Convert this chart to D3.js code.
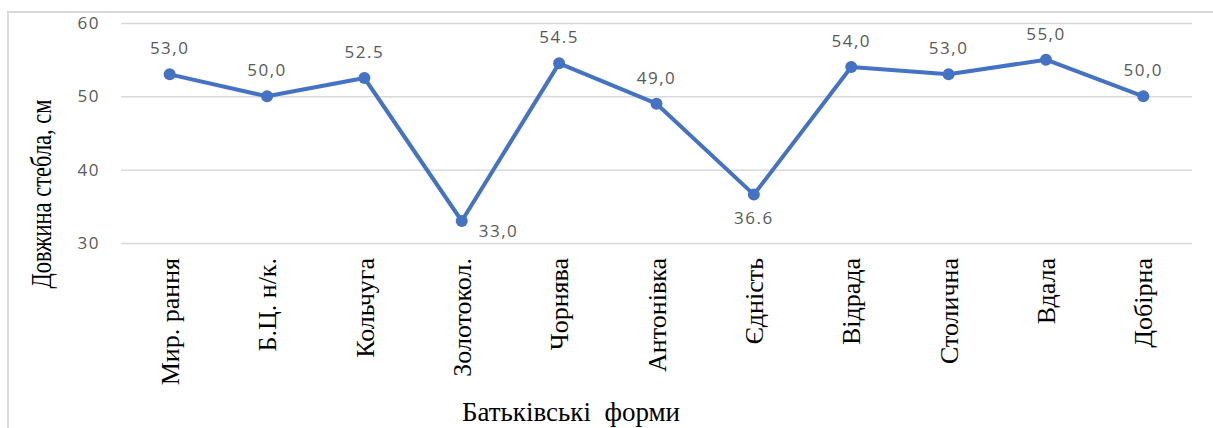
<!DOCTYPE html>
<html>
<head>
<meta charset="utf-8">
<script src="https://cdn.jsdelivr.net/npm/d3@7"></script>
<style>
  html, body { margin: 0; padding: 0; background: #fff; }
  svg { display: block; }
</style>
</head>
<body>
<svg id="chart" width="1213" height="428"></svg>
<script>
// Parent forms and stem length (cm)
const categories = ["Мир. рання", "Б.Ц. н/к.", "Кольчуга", "Золотокол.", "Чорнява", "Антонівка", "Єдність", "Відрада", "Столична", "Вдала", "Добірна"];
const values = [53.0, 50.0, 52.5, 33.0, 54.5, 49.0, 36.6, 54.0, 53.0, 55.0, 50.0];
const valueLabels = ["53,0", "50,0", "52.5", "33,0", "54.5", "49,0", "36.6", "54,0", "53,0", "55,0", "50,0"];
const yTicks = [30, 40, 50, 60];

const svg = d3.select("#chart");
const W = 1213, H = 428;
const plot = { left: 121, right: 1192, top: 23, bottom: 243 };
const sansFont = "'Open Sans', 'DejaVu Sans', sans-serif";
const serifFont = "'Liberation Serif', 'Times New Roman', serif";

// Chart area frame
svg.append("rect")
  .attr("x", 8).attr("y", 12)
  .attr("width", W + 20).attr("height", H + 20)
  .attr("fill", "#fff")
  .attr("stroke", "#d9d9d9").attr("stroke-width", 2);

const x = d3.scaleBand().domain(categories).range([plot.left, plot.right]);
const y = d3.scaleLinear().domain([30, 60]).range([plot.bottom, plot.top]);

// Horizontal gridlines + y tick labels
const yAxis = d3.axisLeft(y).tickValues(yTicks).tickSize(-(plot.right - plot.left)).tickPadding(21).tickFormat(d3.format("d"));
const gy = svg.append("g").attr("transform", `translate(${plot.left},0)`).call(yAxis);
gy.select(".domain").remove();
gy.selectAll(".tick line").attr("stroke", "#d9d9d9").attr("stroke-width", 1.5);
gy.selectAll(".tick text")
  .attr("fill", "#595959")
  .style("font-family", sansFont)
  .style("font-size", "17px")
  .style("letter-spacing", "1.5px");

// Category labels, rotated
const xAxis = d3.axisBottom(x).tickSize(0).tickPadding(0);
const gx = svg.append("g").attr("transform", `translate(0,${plot.bottom})`).call(xAxis);
gx.select(".domain").remove();
gx.selectAll(".tick text")
  .attr("transform", "rotate(-90)")
  .attr("x", -15).attr("y", 0).attr("dy", "0.35em")
  .attr("text-anchor", "end")
  .attr("fill", "#000")
  .style("font-family", serifFont)
  .style("font-size", "26px");

// Series line
const cx = d => x(d.cat) + x.bandwidth() / 2;
const data = categories.map((c, i) => ({ cat: c, v: values[i], label: valueLabels[i] }));
svg.append("path")
  .datum(data)
  .attr("fill", "none")
  .attr("stroke", "#4472C4")
  .attr("stroke-width", 4)
  .attr("stroke-linejoin", "round")
  .attr("d", d3.line().x(cx).y(d => y(d.v)));

svg.selectAll("circle.pt").data(data).enter().append("circle")
  .attr("class", "pt")
  .attr("cx", cx).attr("cy", d => y(d.v))
  .attr("r", 6)
  .attr("fill", "#4472C4");

// Value labels: above by default, shifted for the two low points
svg.selectAll("text.val").data(data).enter().append("text")
  .attr("class", "val")
  .attr("x", d => d.v < 34 ? cx(d) + 17 : cx(d))
  .attr("y", d => d.v < 34 ? y(d.v) + 16 : (d.v < 40 ? y(d.v) + 29 : y(d.v) - 20))
  .attr("text-anchor", d => d.v < 34 ? "start" : "middle")
  .attr("fill", "#595959")
  .style("font-family", sansFont)
  .style("font-size", "17px")
  .style("letter-spacing", "1.5px")
  .text(d => d.label);

// Axis titles
svg.append("text")
  .attr("transform", "translate(51,194) rotate(-90) scale(1,1.3)")
  .attr("text-anchor", "middle")
  .attr("fill", "#000")
  .style("font-family", serifFont)
  .style("font-size", "22.5px")
  .text("Довжина стебла, см");

svg.append("text")
  .attr("x", 571).attr("y", 421)
  .attr("text-anchor", "middle")
  .attr("fill", "#000")
  .attr("xml:space", "preserve")
  .style("font-family", serifFont)
  .style("font-size", "27px")
  .style("white-space", "pre")
  .text("Батьківські  форми");
</script>
</body>
</html>
